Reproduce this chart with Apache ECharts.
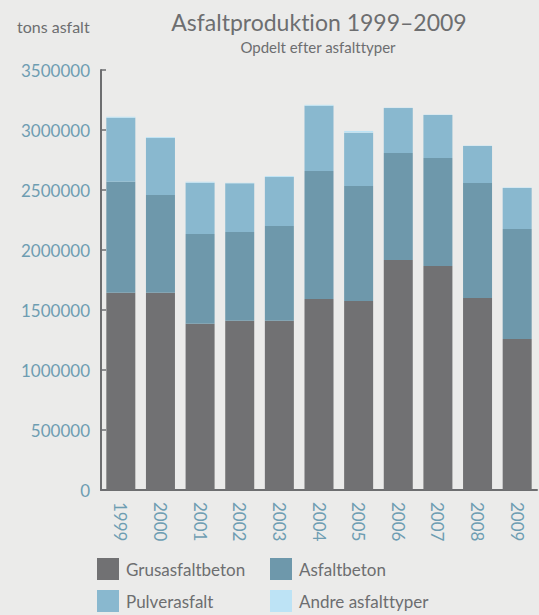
<!DOCTYPE html>
<html><head><meta charset="utf-8">
<script src="https://cdn.jsdelivr.net/npm/echarts@6/dist/echarts.min.js"></script>
<style>html,body{margin:0;padding:0;background:#ebebea;}#c{width:539px;height:615px;} text{font-variant-ligatures:none;}</style>
</head><body><div id="c"></div>
<script>
const years = ['1999','2000','2001','2002','2003','2004','2005','2006','2007','2008','2009'];
const grusasfaltbeton = [1644000,1644000,1386000,1411000,1411000,1592000,1575000,1917000,1867000,1600000,1258000];
const asfaltbeton     = [925000,814000,747000,739000,789000,1066000,958000,891000,900000,958000,917000];
const pulverasfalt    = [533000,475000,428000,406000,408000,544000,445000,375000,358000,309000,342000];
const andre           = [8000,8000,8000,4000,8000,8000,14000,3000,3000,3000,3000];
const yTicks = [0,500000,1000000,1500000,2000000,2500000,3000000,3500000];

const FONT = 'Lato';
const grey = '#6d6e70';
const teal = '#6e9db2';
const names = ['Grusasfaltbeton','Asfaltbeton','Pulverasfalt','Andre asfalttyper'];
const colors = ['#717173','#6e98ab','#89b8cf','#bde3f5'];
const vals = [grusasfaltbeton, asfaltbeton, pulverasfalt, andre];

const chart = echarts.init(document.getElementById('c'), null, {renderer:'svg'});
const legendPos = [[97,558],[270,558],[97,590],[270,590]];
chart.setOption({
  backgroundColor: '#ebebea',
  animation: false,
  title: [
    {text:'Asfaltproduktion 1999–2009', left:314, top:5, textAlign:'center',
     textStyle:{fontFamily:FONT, fontSize:23, fontWeight:'normal', color:grey}},
    {text:'Opdelt efter asfalttyper', left:313, top:34, textAlign:'center',
     textStyle:{fontFamily:FONT, fontSize:15, fontWeight:'normal', color:grey}},
    {text:'tons asfalt', left:12, top:13,
     textStyle:{fontFamily:FONT, fontSize:16, fontWeight:'normal', color:grey}}
  ],
  legend: names.map((n,i)=>({
    data:[n], left:legendPos[i][0], top:legendPos[i][1], itemWidth:22, itemHeight:22, itemGap:6,
    icon:'rect', selectedMode:false, padding:0,
    textStyle:{fontFamily:FONT, fontSize:17, color:grey, padding:[4,0,0,2]}
  })),
  grid: {left:101, right:2, top:70, bottom:125},
  xAxis: {
    type:'category', data: years,
    axisLine:{lineStyle:{color:grey, width:2}},
    axisTick:{inside:true, length:4, lineStyle:{color:grey, width:2}},
    axisLabel:{rotate:-90, margin:12, fontFamily:FONT, fontSize:17, color:teal}
  },
  yAxis: {
    type:'value', min:0, max:3500000, interval:500000,
    axisLine:{show:true, lineStyle:{color:grey, width:2}},
    axisTick:{show:true, inside:true, length:5, lineStyle:{color:grey, width:1.5}},
    splitLine:{show:false},
    axisLabel:{margin:11, fontFamily:FONT, fontSize:17, color:teal,
      formatter:v=>yTicks.includes(v)?String(v):''}
  },
  series: names.map((n,i)=>({
    name:n, type:'bar', stack:'total', data:vals[i], barWidth:29,
    itemStyle:{color:colors[i]}
  }))
});
</script></body></html>
